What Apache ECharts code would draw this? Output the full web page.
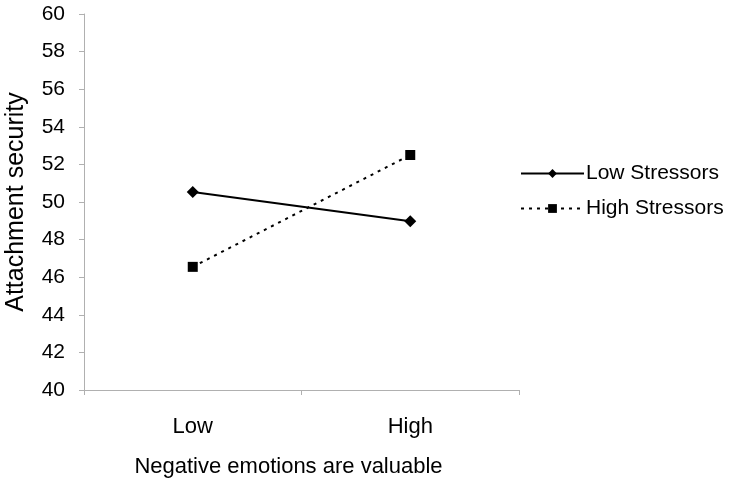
<!DOCTYPE html>
<html><head><meta charset="utf-8">
<script src="https://cdn.jsdelivr.net/npm/echarts@6/dist/echarts.min.js"></script>
<style>html,body{margin:0;padding:0;background:#fff}#c{width:752px;height:486px}</style>
</head><body><div id="c"></div>
<script>
const categories = ['Low', 'High'];
const lowStressors = [50.53, 48.97];
const highStressors = [46.55, 52.5];
const yTicks = {min: 40, max: 60, interval: 2};

const font = '"Liberation Sans", Arial, sans-serif';
const chart = echarts.init(document.getElementById('c'));
chart.setOption({
  animation: false,
  backgroundColor: '#fff',
  grid: {left: 84, top: 14, width: 435, height: 376, containLabel: false, outerBoundsMode: 'none'},
  legend: {
    orient: 'vertical', left: 515, top: 158, itemGap: 14,
    itemWidth: 63, itemHeight: 11,
    textStyle: {fontFamily: font, fontSize: 21, color: '#000', padding: [0,0,0,-3]},
    data: ['Low Stressors', 'High Stressors']
  },
  xAxis: {
    type: 'category', data: categories, boundaryGap: true,
    axisLine: {lineStyle: {color: '#b0b0b0', width: 1}},
    axisTick: {show: true, length: 5, lineStyle: {color: '#b0b0b0'}},
    axisLabel: {fontFamily: font, fontSize: 22, color: '#000', margin: 26},
    name: 'Negative emotions are valuable', nameLocation: 'middle', nameGap: 66,
    nameTextStyle: {fontFamily: font, fontSize: 22, color: '#000', padding: [0, 26, 0, 0]}
  },
  yAxis: {
    type: 'value', min: yTicks.min, max: yTicks.max, interval: yTicks.interval,
    axisLine: {show: true, lineStyle: {color: '#b0b0b0', width: 1}},
    axisTick: {show: true, length: 5, lineStyle: {color: '#b0b0b0'}},
    splitLine: {show: false},
    axisLabel: {fontFamily: font, fontSize: 21, color: '#000', margin: 19},
    name: 'Attachment security', nameLocation: 'middle', nameGap: 55,
    nameTextStyle: {fontFamily: font, fontSize: 25, color: '#000'}
  },
  series: [
    {
      name: 'Low Stressors', type: 'line', data: lowStressors,
      symbol: 'diamond', symbolSize: 12,
      lineStyle: {color: '#000', width: 2, type: 'solid'},
      itemStyle: {color: '#000'}
    },
    {
      name: 'High Stressors', type: 'line', data: highStressors,
      symbol: 'rect', symbolSize: 10,
      lineStyle: {color: '#000', width: 2, type: [3, 5]},
      itemStyle: {color: '#000'}
    }
  ]
});
</script></body></html>
